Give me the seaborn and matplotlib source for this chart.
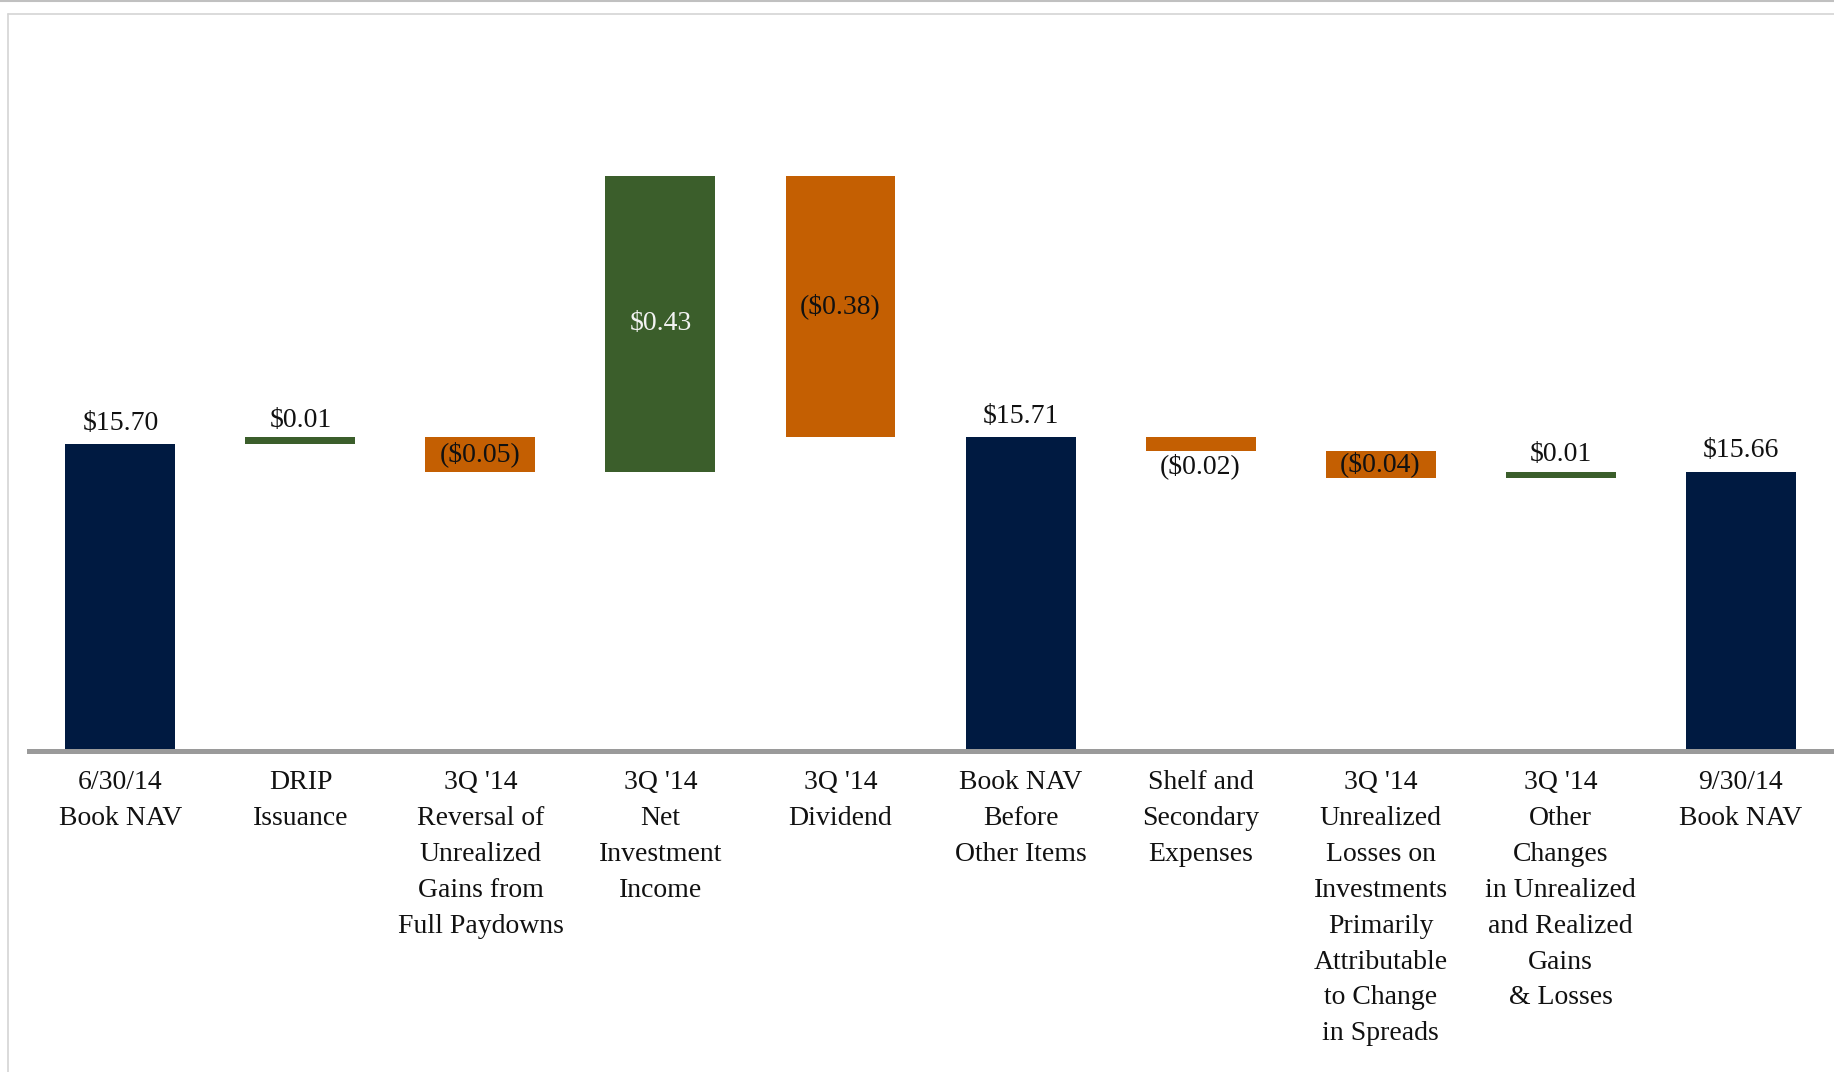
import matplotlib
matplotlib.use("Agg")
import matplotlib.pyplot as plt
from matplotlib.lines import Line2D
import seaborn as sns

categories = ["6/30/14\nBook NAV", "DRIP\nIssuance",
              "3Q '14\nReversal of\nUnrealized\nGains from\nFull Paydowns",
              "3Q '14\nNet\nInvestment\nIncome", "3Q '14\nDividend",
              "Book NAV\nBefore\nOther Items", "Shelf and\nSecondary\nExpenses",
              "3Q '14\nUnrealized\nLosses on\nInvestments\nPrimarily\nAttributable\nto Change\nin Spreads",
              "3Q '14\nOther\nChanges\nin Unrealized\nand Realized\nGains\n& Losses",
              "9/30/14\nBook NAV"]
values = [15.70, 0.01, -0.05, 0.43, -0.38, 15.71, -0.02, -0.04, 0.01, 15.66]
is_total = [True, False, False, False, False, True, False, False, False, True]
labels = ["$15.70", "$0.01", "($0.05)", "$0.43", "($0.38)", "$15.71",
          "($0.02)", "($0.04)", "$0.01", "$15.66"]
label_pos = ["above", "above", "center", "center", "center", "above",
             "below", "center", "above", "above"]

navy = "#001a41"
green = "#3b5e2b"
orange = "#c45f02"

# waterfall bottoms / heights
bottoms, heights, colors = [], [], []
cur = 0
for v, tot in zip(values, is_total):
    if tot:
        bottoms.append(0)
        heights.append(v)
        colors.append(navy)
        cur = v
    else:
        bottoms.append(cur)
        heights.append(v)
        colors.append(green if v > 0 else orange)
        cur = cur + v

sns.set_style("white")
plt.rcParams['font.family'] = ['Liberation Serif', 'DejaVu Serif']
fs = 20

fig = plt.figure(figsize=(18.34, 10.72), dpi=100)
ax = fig.add_axes([29/1834, 321/1072, 1 - 29/1834, 731/1072])

sns.barplot(x=categories, y=heights, bottom=bottoms, order=categories,
            width=0.611, color=navy, ax=ax, linewidth=0)
for p, c in zip(ax.patches, colors):
    p.set_facecolor(c)
    p.set_edgecolor("none")

ax.set_ylim(15.254, 16.316)
ax.set_xlim(-0.508, 9.519)
ax.set_yticks([])
ax.set_xlabel("")
ax.set_ylabel("")
for s in ["left", "right", "top"]:
    ax.spines[s].set_visible(False)
ax.spines["bottom"].set_color("#9a9a9a")
ax.spines["bottom"].set_linewidth(3.6)
ax.spines["bottom"].set_zorder(5)
ax.tick_params(axis="x", length=0, pad=14, labelsize=fs, labelcolor="#111111")
for t in ax.get_xticklabels():
    t.set_linespacing(1.57)

for i, (b, h, lab, pos) in enumerate(zip(bottoms, heights, labels, label_pos)):
    top = max(b, b + h)
    bot = min(b, b + h)
    if pos == "above":
        off = 6 if is_total[i] else 3
        ax.annotate(lab, (i, top), xytext=(0, off), textcoords="offset points",
                    ha="center", va="bottom", fontsize=fs, color="#111111")
    elif pos == "below":
        ax.annotate(lab, (i, bot), xytext=(0, -2), textcoords="offset points",
                    ha="center", va="top", fontsize=fs, color="#111111")
    else:
        col = "#f2f2f2" if colors[i] == green else "#111111"
        ax.text(i, (top + bot) / 2, lab, ha="center", va="center",
                fontsize=fs, color=col)

# page frame lines
fig.add_artist(Line2D([0, 1], [1 - 1/1072, 1 - 1/1072], color="#c0c0c0", lw=1.5))
fig.add_artist(Line2D([8/1834, 1], [1 - 14/1072, 1 - 14/1072], color="#d4d4d4", lw=1.2))
fig.add_artist(Line2D([8/1834, 8/1834], [0, 1 - 14/1072], color="#d4d4d4", lw=1.2))

fig.savefig("out.png", dpi=100)
